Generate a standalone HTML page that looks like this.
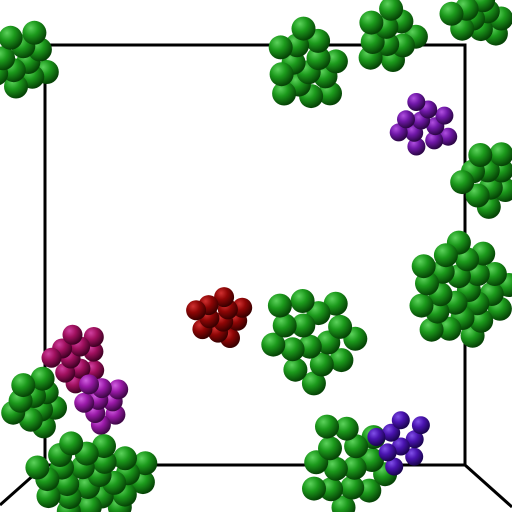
<!DOCTYPE html>
<html><head><meta charset="utf-8"><style>
html,body{margin:0;padding:0;background:#fff;width:512px;height:512px;overflow:hidden}
</style></head><body>
<svg id="scene" width="512" height="512" viewBox="0 0 512 512" xmlns="http://www.w3.org/2000/svg">
<defs>
<radialGradient id="g-green" cx="35%" cy="30%" r="70%"><stop offset="0" stop-color="#5cd25c"/><stop offset="0.45" stop-color="#1c9a1c"/><stop offset="1" stop-color="#064406"/></radialGradient>
<radialGradient id="g-red" cx="35%" cy="30%" r="70%"><stop offset="0" stop-color="#d03030"/><stop offset="0.45" stop-color="#8e0606"/><stop offset="1" stop-color="#3a0000"/></radialGradient>
<radialGradient id="g-magenta" cx="35%" cy="30%" r="70%"><stop offset="0" stop-color="#d040a0"/><stop offset="0.45" stop-color="#a0105e"/><stop offset="1" stop-color="#400024"/></radialGradient>
<radialGradient id="g-violet" cx="35%" cy="30%" r="70%"><stop offset="0" stop-color="#d060e0"/><stop offset="0.45" stop-color="#9a1aa8"/><stop offset="1" stop-color="#3e0646"/></radialGradient>
<radialGradient id="g-purple" cx="35%" cy="30%" r="70%"><stop offset="0" stop-color="#b050e0"/><stop offset="0.45" stop-color="#7018a8"/><stop offset="1" stop-color="#2c0646"/></radialGradient>
<radialGradient id="g-indigo" cx="35%" cy="30%" r="70%"><stop offset="0" stop-color="#8050e8"/><stop offset="0.45" stop-color="#4a14b0"/><stop offset="1" stop-color="#1a0450"/></radialGradient>
</defs>
<g stroke="#000" stroke-width="3" fill="none">
<rect x="45" y="45" width="420" height="420"/>
<line x1="45" y1="465" x2="0" y2="505"/>
<line x1="465" y1="465" x2="512" y2="507"/>
</g>
<g id="clusters"></g>
</svg>
<script>
const clusterNames=["green-top-left","green-top","green-top-mid","green-top-right","purple-top-right","green-right","green-right-big","red-center","green-center","magenta-left","violet-left","green-left","green-bottom-left","green-bottom","indigo-bottom"];
const clusterX=[22,305,390,480,425,486,462,219,311,76,103,34,92,348,400];
const clusterY=[62,66,38,18,125,177,292,318,338,356,403,402,478,464,440];
const clusterSpread=[30,36,30,30,28,28,50,26,45,28,24,27,62,40,28];
const clusterSquash=[1.1,1.1,1.0,0.7,1.0,1.1,1.0,1.0,1.1,1.0,1.0,1.0,0.6,1.25,1.0];
const clusterCount=[11,14,10,9,11,10,24,11,16,11,9,10,24,15,9];
const clusterColor=["green","green","green","green","purple","green","green","red","green","magenta","violet","green","green","green","indigo"];
const sphereR=[12,12,12,12,9,12,12,10,12,10,10,12,12,12,9];
const g=document.getElementById('clusters');
const NS='http://www.w3.org/2000/svg';
const GA=Math.PI*(3-Math.sqrt(5));
for(let c=0;c<clusterNames.length;c++){
  const grp=document.createElementNS(NS,'g');
  
  
  const n=clusterCount[c];
  const pts=[];
  for(let i=0;i<n;i++){
    const rr=clusterSpread[c]*Math.sqrt((i+0.5)/n);
    const a=i*GA+c;
    pts.push([clusterX[c]+rr*Math.cos(a),clusterY[c]+rr*Math.sin(a)*clusterSquash[c]]);
  }
  pts.sort((p,q)=>(q[0]-clusterX[c])+(q[1]-clusterY[c])-((p[0]-clusterX[c])+(p[1]-clusterY[c])));
  for(const p of pts){
    const el=document.createElementNS(NS,'circle');
    
    
    el.setAttribute('cx',p[0].toFixed(1));
    el.setAttribute('cy',p[1].toFixed(1));
    el.setAttribute('r',sphereR[c]);
    el.setAttribute('fill','url(#g-'+clusterColor[c]+')');
    grp.appendChild(el);
  }
  g.appendChild(grp);
}
</script>
</body></html>
